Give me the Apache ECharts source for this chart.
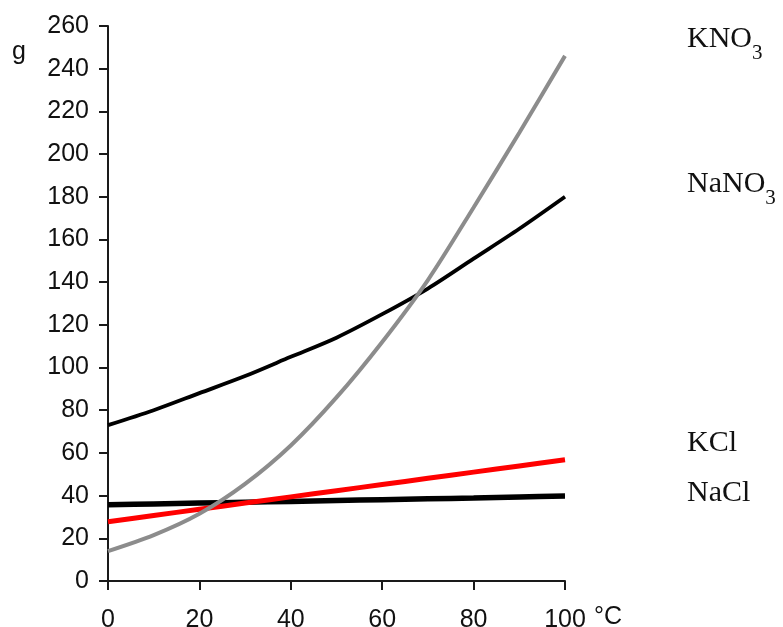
<!DOCTYPE html>
<html><head><meta charset="utf-8">
<script src="https://cdn.jsdelivr.net/npm/echarts@6/dist/echarts.min.js"></script>
<style>html,body{margin:0;padding:0;background:#fff}#c{width:783px;height:627px}</style>
</head><body><div id="c"></div>
<script>
// Temperature (°C) and solubility (g)
const temps = [0,10,20,30,40,50,60,70,80,90,100];
const kno3  = [14,21.5,31.5,45.5,63.5,86,112,141,175,210,246];
const nano3 = [73,80,88,96,105,114,125,137,151,165,180];
const kcl   = [27.8,30.7,33.6,36.5,39.4,42.3,45.2,48.1,51.0,53.9,56.8];
const nacl  = [35.7,36.1,36.5,36.9,37.3,37.7,38.1,38.5,38.9,39.4,39.8];
const xRange = [0, 100, 20];
const yRange = [0, 260, 20];
const yUnit = 'g';
const xUnit = '°C';
const labels = [
  {main:'KNO', sub:'3', y:39},
  {main:'NaNO', sub:'3', y:184},
  {main:'KCl', sub:'', y:443},
  {main:'NaCl', sub:'', y:493}
];

const pairs = a => temps.map((t,i)=>[t,a[i]]);
const chart = echarts.init(document.getElementById('c'), null, {renderer:'canvas'});
const sans = 'Liberation Sans, Arial, sans-serif';
const serif = 'Liberation Serif, Times New Roman, serif';
const axisCommon = {
  axisLine:{show:true, onZero:false, lineStyle:{color:'#1a1a1a', width:2}},
  axisTick:{show:true, inside:false, length:9, lineStyle:{color:'#1a1a1a', width:2}},
  splitLine:{show:false},
  axisLabel:{color:'#111', fontFamily:sans, fontSize:25}
};
function line(data, color, width, z){
  return {type:'line', data:pairs(data), showSymbol:false, symbol:'none', smooth:0.3,
    lineStyle:{color:color, width:width, cap:'butt'}, z:z, silent:true};
}
chart.setOption({
  animation:false,
  backgroundColor:'#fff',
  grid:{left:108, right:218, top:26, bottom:46, containLabel:false, outerBoundsMode:'none'},
  xAxis:Object.assign({type:'value', min:xRange[0], max:xRange[1], interval:xRange[2]}, axisCommon,
    {axisLabel:Object.assign({}, axisCommon.axisLabel, {margin:27})}),
  yAxis:Object.assign({type:'value', min:yRange[0], max:yRange[1], interval:yRange[2]}, axisCommon,
    {axisLabel:Object.assign({}, axisCommon.axisLabel, {margin:19})}),
  series:[
    line(nacl, '#000', 5.5, 2),
    line(nano3, '#000', 3.8, 3),
    line(kcl, '#ff0000', 5, 4),
    line(kno3, '#8c8c8c', 4, 5)
  ],
  graphic:[
    {type:'text', left:12, top:40, style:{text:yUnit, font:'25px '+sans, fill:'#111'}},
    {type:'text', left:594, top:605, style:{text:xUnit, font:'25px '+sans, fill:'#111'}}
  ].concat(labels.map(l=>({
    type:'text', x:687, y:l.y,
    style:{
      text:'{m|'+l.main+'}'+(l.sub?'{s|'+l.sub+'}':''),
      verticalAlign:'middle', align:'left',
      rich:{
        m:{fontFamily:serif, fontSize:30, lineHeight:30, fill:'#111'},
        s:{fontFamily:serif, fontSize:21, lineHeight:21, fill:'#111', verticalAlign:'bottom', padding:[0,0,-10,0]}
      }
    }
  })))
});
</script></body></html>
